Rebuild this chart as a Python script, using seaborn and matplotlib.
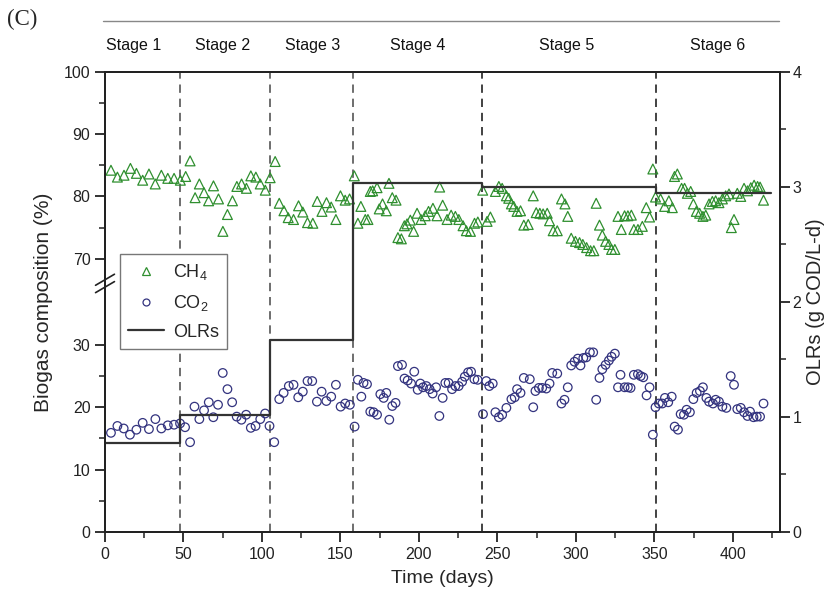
import numpy as np
import pandas as pd
import matplotlib
matplotlib.use("Agg")
import matplotlib.pyplot as plt
import seaborn as sns
from matplotlib.ticker import FixedLocator, MultipleLocator
from matplotlib.lines import Line2D

# ---------------- data ----------------
ch4_days = [3.8,7.9,12.1,16.2,20,24,28,32,35.9,40,
            44,48,51.4,54.2,57.4,60.1,63.1,66,69.1,72.3,
            75.1,78,81.2,84,87,90.1,92.9,96.1,98.9,102.1,
            105.2,108.4,111,114,116.7,120.1,123.3,126,129,132.4,
            135.2,138.2,141.1,144.1,147.1,150,153,155.8,158.8,161.1,
            163,165.8,167.5,169,170.5,173.3,174.7,176.8,179.2,180.9,
            183,185.4,186.6,188.8,190.7,192.4,194.5,196.6,198.8,201.3,
            204,206.1,208.9,211.5,213.2,215.1,217.9,220.5,223.2,225.4,
            228.1,230.2,232.8,235.4,237.5,240.6,243.4,245.5,248.7,250.9,
            253,255.7,257.2,258.9,260.4,262.5,264.7,266.8,269.6,272.8,
            274.7,277,279.1,281.7,283.2,285.5,288.1,290.8,293,294.8,
            297,299.7,302.3,304.4,306.8,309.3,311.4,312.9,315,316.8,
            318.9,321,322.7,324.8,326.8,328.9,331,333.1,335.3,336.9,
            339.5,342.3,344.8,346.9,349,350.7,353.9,356.5,359.2,361.4,
            362.8,364.6,367.3,369.2,371,373.1,374.8,376.7,378.8,380.9,
            382.7,384.8,386.9,389,391.1,393.3,395.4,397.5,399,400.7,
            402.8,405,407.1,409.3,411.4,413.5,415.7,417.3,419.5]
ch4_vals = [84.2,83.1,83.4,84.5,83.7,82.6,83.6,82.0,83.4,82.9,
            82.9,82.6,83.2,85.7,79.8,82.0,80.6,79.3,81.7,79.6,
            74.4,77.1,79.3,81.6,82.0,81.3,83.3,83.1,82.0,81.0,
            83.0,85.6,78.9,77.7,76.6,76.3,78.5,77.5,75.8,75.7,
            79.2,77.6,79.0,78.3,76.3,80.1,79.4,79.6,83.3,75.7,
            78.4,76.3,76.3,80.8,80.9,81.4,78.0,78.8,77.7,82.1,
            79.8,79.4,73.4,73.2,75.3,75.6,76.2,74.4,77.3,76.3,
            76.9,77.6,78.1,76.9,81.5,78.6,76.3,77.0,76.8,76.3,
            75.3,74.5,74.4,75.7,75.9,81.0,76.0,76.7,80.8,81.6,
            81.3,80.1,79.7,78.8,78.4,77.6,77.7,75.4,75.5,80.1,
            77.4,77.3,77.2,77.3,76.1,74.5,74.5,79.6,78.8,76.8,
            73.3,72.8,72.6,72.3,71.8,71.3,71.3,78.9,75.4,73.8,
            72.8,72.3,71.5,71.5,76.8,74.7,76.9,76.9,77.0,74.7,
            74.7,75.2,78.2,76.7,84.4,79.9,79.6,78.4,79.3,78.2,
            83.2,83.6,81.3,81.3,80.5,80.8,78.8,77.6,77.3,76.8,
            77.0,78.8,79.2,79.3,79.0,79.6,80.1,80.4,75.0,76.3,
            80.5,80.0,81.3,80.9,81.4,81.8,81.6,81.5,79.4]

co2_days = [3.8,7.9,11.9,15.9,20,24,28,32.1,35.9,40,
            44,47.8,51,54.2,57,60.1,63.1,66.1,69,72,
            75,78,81,83.9,86.9,89.9,92.9,95.9,98.9,102,
            104.8,107.8,111,113.8,117.1,120.1,123.1,126,129,132,
            135,138,141,144.1,147.1,150.1,153,156,159,161.1,
            163.3,164.7,166.9,169,171.1,173.3,175.4,177.5,179.2,181.1,
            183,185.1,186.6,189.2,190.8,192.8,195,197,199.2,200.9,
            202.6,204.7,206.8,208.7,210.9,213,215.1,216.8,218.9,221.1,
            223.2,225.3,227.5,229.2,231.3,233.2,235.3,237.4,240.8,242.9,
            244.8,247,248.7,250.9,253,255.7,258.9,261,262.5,264.7,
            266.8,270.6,272.8,274.2,276.4,278.5,281.1,283.2,284.9,288.1,
            290.8,292.7,294.8,297,299.1,301.2,302.9,304.7,306.6,308.9,
            311,312.9,315,316.8,318.9,321,322.7,324.8,326.8,328.4,
            331,333.1,334.8,336.9,339.5,341.2,342.9,345,346.9,349,
            350.7,352.8,355,356.7,358.8,361,362.9,365,366.7,368.8,
            370.5,372.6,374.8,376.9,379,380.9,383.1,384.8,387.3,389,
            391.1,393.3,395.8,398.6,400.7,402.8,405,407.1,409.3,410.9,
            413.1,415.2,417.3,419.5]
co2_vals = [15.9,17.0,16.6,15.6,16.4,17.5,16.5,18.1,16.6,17.1,
            17.2,17.4,16.8,14.4,20.1,18.1,19.5,20.8,18.4,20.4,
            25.5,22.9,20.8,18.5,18.0,18.8,16.7,17.0,18.1,19.0,
            17.0,14.4,21.3,22.3,23.4,23.6,21.6,22.5,24.2,24.2,
            20.9,22.5,21.0,21.7,23.6,20.1,20.6,20.4,16.9,24.4,
            21.7,23.9,23.7,19.3,19.2,18.8,22.1,21.5,22.3,18.0,
            20.2,20.7,26.6,26.8,24.6,24.3,23.8,25.7,22.8,23.8,
            23.2,23.4,22.9,22.2,23.2,18.6,21.5,23.9,23.9,22.9,
            23.4,23.4,24.1,24.9,25.6,25.7,24.5,24.4,18.9,24.2,
            23.4,23.8,19.2,18.4,18.8,19.9,21.3,21.6,22.9,22.3,
            24.7,24.5,20.0,22.6,23.1,23.1,23.0,23.8,25.5,25.4,
            20.6,21.2,23.2,26.7,27.3,27.8,26.7,27.9,28.0,28.8,
            28.8,21.2,24.7,26.1,26.8,27.5,28.1,28.6,23.2,25.2,
            23.2,23.2,23.1,25.2,25.3,25.0,24.8,21.9,23.2,15.6,
            20.0,20.6,20.6,21.5,20.8,21.7,16.9,16.4,18.9,18.8,
            19.6,19.2,21.3,22.3,22.6,23.2,21.5,20.9,20.6,21.2,
            20.9,20.1,19.9,25.0,23.6,19.7,19.9,19.2,18.6,19.3,
            18.4,18.5,18.5,20.6]

olr_days = [0, 48, 105, 158, 240, 351, 424]
olr_vals = [0.77, 1.02, 1.67, 3.03, 3.00, 2.95, 2.95]

stage_bounds = [48, 105, 158, 240, 351]
stage_names = ["Stage 1", "Stage 2", "Stage 3", "Stage 4", "Stage 5", "Stage 6"]
stage_label_x = [18, 75, 132, 199, 294, 390]

left_ticks = [0, 10, 20, 30, 70, 80, 90, 100]
left_minor = [5, 15, 25, 75, 85, 95]

# ---------------- style ----------------
sns.set_theme(style="ticks")
plt.rcParams["font.family"] = ["Liberation Sans", "DejaVu Sans"]
plt.rcParams["mathtext.fontset"] = "custom"
plt.rcParams["mathtext.rm"] = "Liberation Sans"
plt.rcParams["mathtext.it"] = "Liberation Sans:italic"

GREEN = "#2f8f2f"
NAVY = "#33337f"

GAP = 13.8  # visual size of axis break (in data units)

def fwd(v):
    v = np.asarray(v, dtype=float)
    return np.where(v <= 30, v,
                    np.where(v >= 70, v - 70 + 30 + GAP, 30 + (v - 30) * GAP / 40))

def inv(u):
    u = np.asarray(u, dtype=float)
    return np.where(u <= 30, u,
                    np.where(u >= 30 + GAP, u - 30 - GAP + 70, 30 + (u - 30) * 40 / GAP))

fig = plt.figure(figsize=(8.32, 6.04), dpi=100)
ax = fig.add_axes([105/832, 1 - 532/604, 675/832, (532 - 71.7)/604])
ax.set_yscale("function", functions=(fwd, inv))
ax.set_ylim(0, 100)
ax.set_xlim(0, 430)

df_ch4 = pd.DataFrame({"day": ch4_days, "val": ch4_vals})
df_co2 = pd.DataFrame({"day": co2_days, "val": co2_vals})

sns.scatterplot(data=df_ch4, x="day", y="val", marker="^", s=50,
                facecolors="none", edgecolor=GREEN, linewidth=0.9, ax=ax, zorder=3)
sns.scatterplot(data=df_co2, x="day", y="val", marker="o", s=38,
                facecolors="none", edgecolor=NAVY, linewidth=0.9, ax=ax, zorder=3)

for i, b in enumerate(stage_bounds):
    col = "#555555" if i < 3 else "#222222"
    ax.axvline(b, color=col, linestyle=(0, (5, 3.5)), linewidth=1.2, zorder=1)

ax.yaxis.set_major_locator(FixedLocator(left_ticks))
ax.yaxis.set_minor_locator(FixedLocator(left_minor))
ax.set_yticklabels([str(t) for t in left_ticks])
ax.xaxis.set_major_locator(MultipleLocator(50))
ax.xaxis.set_minor_locator(MultipleLocator(25))

ax2 = ax.twinx()
ax2.set_ylim(0, 4)
df_olr = pd.DataFrame({"day": olr_days, "olr": olr_vals})
sns.lineplot(data=df_olr, x="day", y="olr", drawstyle="steps-post",
             color="#333333", linewidth=1.6, estimator=None, ax=ax2, zorder=2)
ax2.yaxis.set_major_locator(MultipleLocator(1))
ax2.yaxis.set_minor_locator(MultipleLocator(0.5))

for a in (ax, ax2):
    for s in a.spines.values():
        s.set_linewidth(1.4)
        s.set_color("#222222")
    a.tick_params(which="major", direction="out", length=7, width=1.3,
                  labelsize=11.5, colors="#222222")
    a.tick_params(which="minor", direction="out", length=4, width=1.1, colors="#222222")
ax2.tick_params(axis="y", which="both", right=True, left=False, pad=2)
ax.tick_params(axis="y", which="both", right=False)
ax.tick_params(axis="x", which="both", top=False)

ax.set_xlabel("Time (days)", fontsize=14, labelpad=6)
ax.set_ylabel("Biogas composition (%)", fontsize=15, labelpad=8)
ax2.set_ylabel("OLRs (g COD/L-d)", fontsize=14.5, labelpad=3)

# axis break marks
for dy in (-0.008, 0.008):
    ax.plot([-0.014, 0.014], [0.540 + dy - 0.012, 0.540 + dy + 0.012],
            transform=ax.transAxes, color="#222222", linewidth=1.2, clip_on=False, zorder=6)

# stage labels and top line
trans = ax.get_xaxis_transform()
for name, xs in zip(stage_names, stage_label_x):
    ax.text(xs, 1.058, name, transform=trans, ha="center", va="center",
            fontsize=11.5, color="#111111")
fig.add_artist(Line2D([103/832, 779/832], [1 - 21/604, 1 - 21/604],
                      color="#888888", linewidth=1.0))
fig.text(7/832, 1 - 19/604, "(C)", fontsize=16.5, family=["Liberation Serif", "DejaVu Serif"],
         va="center", ha="left")

# legend
handles = [
    Line2D([], [], marker="^", linestyle="none", markerfacecolor="none",
           markeredgecolor=GREEN, markersize=6, markeredgewidth=0.9),
    Line2D([], [], marker="o", linestyle="none", markerfacecolor="none",
           markeredgecolor=NAVY, markersize=5, markeredgewidth=0.9),
    Line2D([], [], color="#333333", linewidth=1.6),
]
labels = ["CH$_4$", "CO$_2$", "OLRs"]
if ax.get_legend() is not None:
    ax.get_legend().remove()
if ax2.get_legend() is not None:
    ax2.get_legend().remove()
leg = ax2.legend(handles, labels, loc="upper left", bbox_to_anchor=(0.022, 0.604),
                 borderaxespad=0, fontsize=13, frameon=True, fancybox=False, framealpha=1,
                 edgecolor="#777777", handlelength=2.0, borderpad=0.45,
                 labelspacing=0.6, handletextpad=0.5)
leg.get_frame().set_linewidth(1.0)
leg.set_zorder(10)

fig.savefig("out.png", dpi=100)
